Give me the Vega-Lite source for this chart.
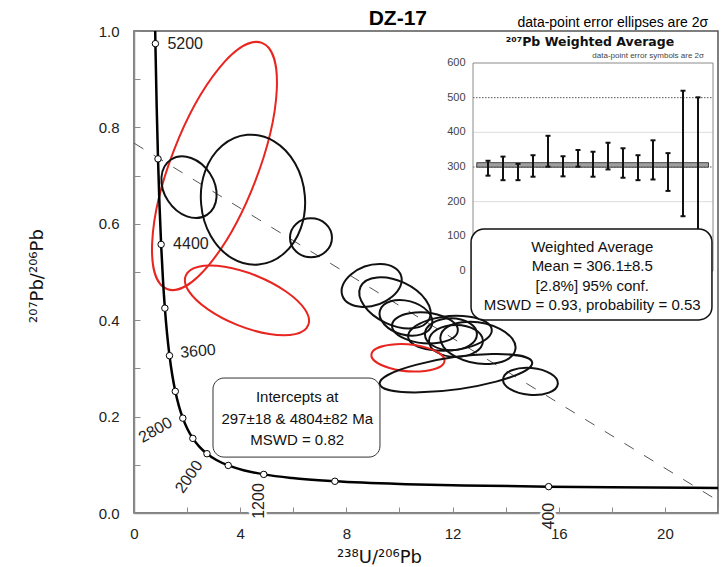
{
  "$schema": "https://vega.github.io/schema/vega-lite/v6.json",
  "width": 584,
  "height": 482,
  "autosize": {"type": "none"},
  "padding": {"left": 134, "top": 31, "right": 9, "bottom": 54},
  "background": "white",
  "config": {
    "font": "Liberation Sans",
    "view": {"stroke": "#555555", "strokeWidth": 1.5},
    "axis": {
      "domainColor": "#8c8c8c", "domainWidth": 1.5, "tickColor": "#8c8c8c", "tickWidth": 1,
      "labelColor": "#222222", "labelFontSize": 15, "titleFontWeight": "normal", "titleColor": "#111111",
      "titleFont": "DejaVu Sans", "titleFontSize": 18, "grid": false, "labelFlush": false, "labelOverlap": false
    }
  },
  "data": {"values": [{}]},
  "datasets": {
    "concordia": [
      {"t": 5400, "x": 0.7628, "y": 1.1232},
      {"t": 5200, "x": 0.8062, "y": 0.9738},
      {"t": 5000, "x": 0.8533, "y": 0.8453},
      {"t": 4800, "x": 0.9045, "y": 0.7347},
      {"t": 4600, "x": 0.9604, "y": 0.6393},
      {"t": 4400, "x": 1.0216, "y": 0.5572},
      {"t": 4200, "x": 1.0888, "y": 0.4863},
      {"t": 4000, "x": 1.1630, "y": 0.4250},
      {"t": 3800, "x": 1.2453, "y": 0.3721},
      {"t": 3600, "x": 1.3370, "y": 0.3264},
      {"t": 3400, "x": 1.4398, "y": 0.2868},
      {"t": 3200, "x": 1.5557, "y": 0.2524},
      {"t": 3000, "x": 1.6875, "y": 0.2227},
      {"t": 2800, "x": 1.8384, "y": 0.1968},
      {"t": 2600, "x": 2.0130, "y": 0.1744},
      {"t": 2400, "x": 2.2169, "y": 0.1548},
      {"t": 2200, "x": 2.4585, "y": 0.1378},
      {"t": 2000, "x": 2.7490, "y": 0.1230},
      {"t": 1800, "x": 3.1042, "y": 0.1100},
      {"t": 1600, "x": 3.5495, "y": 0.0987},
      {"t": 1400, "x": 4.1224, "y": 0.0888},
      {"t": 1200, "x": 4.8876, "y": 0.0801},
      {"t": 1000, "x": 5.9591, "y": 0.0725},
      {"t": 800, "x": 7.568, "y": 0.0658},
      {"t": 600, "x": 10.252, "y": 0.0599},
      {"t": 500, "x": 12.399, "y": 0.0572},
      {"t": 400, "x": 15.620, "y": 0.0547},
      {"t": 350, "x": 17.923, "y": 0.0535},
      {"t": 300, "x": 20.992, "y": 0.0523},
      {"t": 280, "x": 22.527, "y": 0.0519}
    ],
    "ell": [
      {"id": "E1", "grp": "red", "x": 3.032, "y": 0.720},
      {"id": "E2", "grp": "black", "x": 2.072, "y": 0.676},
      {"id": "E3", "grp": "black", "x": 4.482, "y": 0.650},
      {"id": "E4", "grp": "black", "x": 6.667, "y": 0.571},
      {"id": "E5", "grp": "red", "x": 4.256, "y": 0.441},
      {"id": "E6", "grp": "black", "x": 8.953, "y": 0.472},
      {"id": "E7", "grp": "black", "x": 9.831, "y": 0.436},
      {"id": "E8", "grp": "black", "x": 10.245, "y": 0.405},
      {"id": "E9", "grp": "black", "x": 10.960, "y": 0.384},
      {"id": "E10", "grp": "black", "x": 11.902, "y": 0.373},
      {"id": "E11", "grp": "black", "x": 11.940, "y": 0.371},
      {"id": "E12", "grp": "black", "x": 12.128, "y": 0.357},
      {"id": "E13", "grp": "black", "x": 12.957, "y": 0.353},
      {"id": "E14", "grp": "red", "x": 10.320, "y": 0.322},
      {"id": "E15", "grp": "black", "x": 12.128, "y": 0.290},
      {"id": "E16", "grp": "black", "x": 14.934, "y": 0.273}
    ],
    "wa": [
      {"i": 1, "lo": 275, "hi": 318},
      {"i": 2, "lo": 262, "hi": 330},
      {"i": 3, "lo": 262, "hi": 309},
      {"i": 4, "lo": 272, "hi": 334},
      {"i": 5, "lo": 301, "hi": 390},
      {"i": 6, "lo": 273, "hi": 331},
      {"i": 7, "lo": 301, "hi": 349},
      {"i": 8, "lo": 272, "hi": 344},
      {"i": 9, "lo": 293, "hi": 370},
      {"i": 10, "lo": 269, "hi": 354},
      {"i": 11, "lo": 262, "hi": 334},
      {"i": 12, "lo": 264, "hi": 377},
      {"i": 13, "lo": 231, "hi": 340},
      {"i": 14, "lo": 158, "hi": 520},
      {"i": 15, "lo": 110, "hi": 501}
    ]
  },
  "layer": [
    {
      "layer": [
        {
          "data": {"values": [{"x": 0, "y": 0.7674}, {"x": 22, "y": 0.0256}]},
          "mark": {"type": "line", "stroke": "#555555", "strokeWidth": 1, "strokeDash": [11, 12]},
          "encoding": {
            "x": {"field": "x", "type": "quantitative", "scale": {"domain": [0, 22], "nice": false, "zero": false},
              "axis": {"title": "²³⁸U/²⁰⁶Pb", "values": [0, 2, 4, 6, 8, 10, 12, 14, 16, 18, 20, 22],
                "labelExpr": "datum.value % 4 === 0 ? datum.label : ''", "tickSize": -6, "labelPadding": 19,
                "titleX": 245, "titleY": 49.7, "titleBaseline": "alphabetic", "titleAlign": "center"}},
            "y": {"field": "y", "type": "quantitative", "scale": {"domain": [0, 1], "nice": false, "zero": false},
              "axis": {"title": "²⁰⁷Pb/²⁰⁶Pb", "values": [0, 0.1, 0.2, 0.3, 0.4, 0.5, 0.6, 0.7, 0.8, 0.9, 1.0],
                "labelExpr": "round(datum.value * 10) % 2 === 0 ? format(datum.value, '.1f') : ''", "tickSize": -6, "labelPadding": 21,
                "titleX": -92, "titleY": 244.6, "titleBaseline": "alphabetic", "titleAlign": "center", "titleAngle": 270}}
          }
        },
        {
          "data": {"name": "ell"},
          "mark": {"type": "point", "filled": false, "size": 4, "strokeWidth": 2, "opacity": 1},
          "encoding": {
            "x": {"field": "x", "type": "quantitative"},
            "y": {"field": "y", "type": "quantitative"},
            "shape": {"field": "id", "type": "nominal", "legend": null, "scale": {
              "domain": ["E1", "E2", "E3", "E4", "E5", "E6", "E7", "E8", "E9", "E10", "E11", "E12", "E13", "E14", "E15", "E16"],
              "range": [
                "M -47.48 123.06 A 131.9 43.5 -68.9 1 0 47.48 -123.06 A 131.9 43.5 -68.9 1 0 -47.48 123.06 Z",
                "M -17.97 -27.68 A 33 25 57 1 0 17.97 27.68 A 33 25 57 1 0 -17.97 -27.68 Z",
                "M -51.8 4.53 A 52 64.5 -5 1 0 51.8 -4.53 A 52 64.5 -5 1 0 -51.8 4.53 Z",
                "M -21 0 A 21 19.5 0 1 0 21 0 A 21 19.5 0 1 0 -21 0 Z",
                "M -61.19 -24.72 A 66 26 22 1 0 61.19 24.72 A 66 26 22 1 0 -61.19 -24.72 Z",
                "M -29.31 10.09 A 31 19.8 -19 1 0 29.31 -10.09 A 31 19.8 -19 1 0 -29.31 10.09 Z",
                "M -34.44 -16.06 A 38 22 25 1 0 34.44 16.06 A 38 22 25 1 0 -34.44 -16.06 Z",
                "M -26.08 -6.99 A 27 17 15 1 0 26.08 6.99 A 27 17 15 1 0 -26.08 -6.99 Z",
                "M -32.87 -2.88 A 33 15 5 1 0 32.87 2.88 A 33 15 5 1 0 -32.87 -2.88 Z",
                "M -41.84 3.66 A 42 17 -5 1 0 41.84 -3.66 A 42 17 -5 1 0 -41.84 3.66 Z",
                "M -26 0 A 26 16 0 1 0 26 0 A 26 16 0 1 0 -26 0 Z",
                "M -27 0 A 27 16 0 1 0 27 0 A 27 16 0 1 0 -27 0 Z",
                "M -37.42 -6.6 A 38 20 10 1 0 37.42 6.6 A 38 20 10 1 0 -37.42 -6.6 Z",
                "M -36.56 -3.2 A 36.7 13.3 5 1 0 36.56 3.2 A 36.7 13.3 5 1 0 -36.56 -3.2 Z",
                "M -76.25 10.72 A 77 16 -8 1 0 76.25 -10.72 A 77 16 -8 1 0 -76.25 10.72 Z",
                "M -27.4 -2.4 A 27.5 13.5 5 1 0 27.4 2.4 A 27.5 13.5 5 1 0 -27.4 -2.4 Z"
              ]}},
            "color": {"field": "grp", "type": "nominal", "legend": null, "scale": {"domain": ["black", "red"], "range": ["#111111", "#e8251f"]}}
          }
        },
        {
          "data": {"name": "concordia"},
          "mark": {"type": "line", "color": "#000000", "strokeWidth": 2.5, "interpolate": "monotone", "clip": true},
          "encoding": {"x": {"field": "x", "type": "quantitative"}, "y": {"field": "y", "type": "quantitative"}}
        },
        {
          "data": {"name": "concordia"},
          "transform": [{"filter": "datum.t >= 400 && datum.t <= 5200 && datum.t % 400 === 0"}],
          "mark": {"type": "point", "shape": "circle", "filled": true, "fill": "white", "stroke": "#000000", "strokeWidth": 1, "size": 42, "opacity": 1},
          "encoding": {"x": {"field": "x", "type": "quantitative"}, "y": {"field": "y", "type": "quantitative"}}
        },
        {
          "data": {"name": "concordia"},
          "transform": [{"filter": "datum.t === 5200 || datum.t === 4400"}],
          "mark": {"type": "text", "align": "left", "baseline": "middle", "dx": 12, "dy": 0, "fontSize": 16, "color": "#222222"},
          "encoding": {"x": {"field": "x", "type": "quantitative"}, "y": {"field": "y", "type": "quantitative"}, "text": {"field": "t", "type": "quantitative", "format": "d"}}
        },
        {
          "data": {"name": "concordia"},
          "transform": [{"filter": "datum.t === 3600"}],
          "mark": {"type": "text", "align": "left", "baseline": "middle", "dx": 11, "dy": -2, "angle": -5, "fontSize": 16, "color": "#222222"},
          "encoding": {"x": {"field": "x", "type": "quantitative"}, "y": {"field": "y", "type": "quantitative"}, "text": {"field": "t", "type": "quantitative", "format": "d"}}
        },
        {
          "data": {"name": "concordia"},
          "transform": [{"filter": "datum.t === 2800"}],
          "mark": {"type": "text", "align": "center", "baseline": "middle", "dx": -29.6, "dy": -3.3, "angle": -30, "fontSize": 16, "color": "#222222"},
          "encoding": {"x": {"field": "x", "type": "quantitative"}, "y": {"field": "y", "type": "quantitative"}, "text": {"field": "t", "type": "quantitative", "format": "d"}}
        },
        {
          "data": {"name": "concordia"},
          "transform": [{"filter": "datum.t === 2000"}],
          "mark": {"type": "text", "align": "center", "baseline": "middle", "dx": -29.2, "dy": -1.5, "angle": -55, "fontSize": 16, "color": "#222222"},
          "encoding": {"x": {"field": "x", "type": "quantitative"}, "y": {"field": "y", "type": "quantitative"}, "text": {"field": "t", "type": "quantitative", "format": "d"}}
        },
        {
          "data": {"name": "concordia"},
          "transform": [{"filter": "datum.t === 1200"}],
          "mark": {"type": "text", "align": "center", "baseline": "middle", "dx": -26.6, "dy": -4.3, "angle": -90, "fontSize": 16, "fill": "white", "stroke": "white", "strokeWidth": 5},
          "encoding": {"x": {"field": "x", "type": "quantitative"}, "y": {"field": "y", "type": "quantitative"}, "text": {"field": "t", "type": "quantitative", "format": "d"}}
        },
        {
          "data": {"name": "concordia"},
          "transform": [{"filter": "datum.t === 1200"}],
          "mark": {"type": "text", "align": "center", "baseline": "middle", "dx": -26.6, "dy": -4.3, "angle": -90, "fontSize": 16, "color": "#222222"},
          "encoding": {"x": {"field": "x", "type": "quantitative"}, "y": {"field": "y", "type": "quantitative"}, "text": {"field": "t", "type": "quantitative", "format": "d"}}
        },
        {
          "data": {"name": "concordia"},
          "transform": [{"filter": "datum.t === 400"}],
          "mark": {"type": "text", "align": "center", "baseline": "middle", "dx": -29.5, "dy": 0, "angle": -90, "fontSize": 16, "fill": "white", "stroke": "white", "strokeWidth": 5},
          "encoding": {"x": {"field": "x", "type": "quantitative"}, "y": {"field": "y", "type": "quantitative"}, "text": {"field": "t", "type": "quantitative", "format": "d"}}
        },
        {
          "data": {"name": "concordia"},
          "transform": [{"filter": "datum.t === 400"}],
          "mark": {"type": "text", "align": "center", "baseline": "middle", "dx": -29.5, "dy": 0, "angle": -90, "fontSize": 16, "color": "#222222"},
          "encoding": {"x": {"field": "x", "type": "quantitative"}, "y": {"field": "y", "type": "quantitative"}, "text": {"field": "t", "type": "quantitative", "format": "d"}}
        },
        {
          "mark": {"type": "rect", "fill": "white", "stroke": "#333333", "strokeWidth": 1, "cornerRadius": 11},
          "encoding": {"x": {"datum": 2.976, "type": "quantitative"}, "x2": {"datum": 9.266}, "y": {"datum": 0.280, "type": "quantitative"}, "y2": {"datum": 0.116}}
        },
        {
          "mark": {"type": "text", "text": ["Intercepts  at", "297±18  & 4804±82 Ma", "MSWD = 0.82"], "lineHeight": 21.7, "fontSize": 15, "align": "center", "baseline": "alphabetic", "color": "#111111"},
          "encoding": {"x": {"datum": 6.147, "type": "quantitative"}, "y": {"datum": 0.2301, "type": "quantitative"}}
        },
        {
          "mark": {"type": "text", "text": "DZ-17", "fontSize": 21, "fontWeight": "bold", "align": "center", "baseline": "alphabetic", "color": "#000000"},
          "encoding": {"x": {"datum": 9.94, "type": "quantitative"}, "y": {"datum": 1.0118, "type": "quantitative"}}
        },
        {
          "mark": {"type": "text", "text": "data-point error ellipses are 2σ", "fontSize": 14, "align": "right", "baseline": "alphabetic", "color": "#000000"},
          "encoding": {"x": {"datum": 21.63, "type": "quantitative"}, "y": {"datum": 1.0089, "type": "quantitative"}}
        }
      ]
    },
    {
      "layer": [
        {
          "data": {"values": [{"v": 100}, {"v": 200}, {"v": 400}]},
          "mark": {"type": "rule", "color": "#dddddd", "strokeWidth": 1},
          "encoding": {
            "x": {"datum": 0, "type": "quantitative", "scale": {"domain": [0, 16], "range": [339, 579], "nice": false, "zero": false}, "axis": null},
            "x2": {"datum": 16},
            "y": {"field": "v", "type": "quantitative", "scale": {"domain": [0, 600], "range": [240, 32], "nice": false, "zero": false}, "axis": null}
          }
        },
        {
          "data": {"values": [{"v": 300}, {"v": 500}]},
          "mark": {"type": "rule", "color": "#555555", "strokeWidth": 1, "strokeDash": [1.5, 1.5]},
          "encoding": {
            "x": {"datum": 0, "type": "quantitative", "axis": null},
            "x2": {"datum": 16},
            "y": {"field": "v", "type": "quantitative", "axis": null}
          }
        },
        {
          "mark": {"type": "rect", "fill": "white", "fillOpacity": 0, "stroke": "#8a8a8a", "strokeWidth": 1},
          "encoding": {
            "x": {"datum": 0, "type": "quantitative", "axis": null},
            "x2": {"datum": 16},
            "y": {"datum": 0, "type": "quantitative", "axis": null},
            "y2": {"datum": 600}
          }
        },
        {
          "data": {"values": [{"v": 0}, {"v": 100}, {"v": 200}, {"v": 300}, {"v": 400}, {"v": 500}, {"v": 600}]},
          "mark": {"type": "text", "align": "right", "baseline": "middle", "fontSize": 11, "color": "#444444"},
          "encoding": {
            "x": {"datum": -0.5, "type": "quantitative", "axis": null},
            "y": {"field": "v", "type": "quantitative", "axis": null},
            "text": {"field": "v", "type": "quantitative", "format": "d"}
          }
        },
        {
          "data": {"values": [{"lo": 299.5, "hi": 312.5}]},
          "mark": {"type": "rect", "fill": "#a0a0a0", "stroke": "#222222", "strokeWidth": 0.8},
          "encoding": {
            "x": {"datum": 0.25, "type": "quantitative", "axis": null},
            "x2": {"datum": 15.7},
            "y": {"field": "lo", "type": "quantitative", "axis": null},
            "y2": {"field": "hi"}
          }
        },
        {
          "data": {"name": "wa"},
          "mark": {"type": "rule", "color": "#111111", "strokeWidth": 2},
          "encoding": {
            "x": {"field": "i", "type": "quantitative", "axis": null},
            "y": {"field": "lo", "type": "quantitative", "axis": null},
            "y2": {"field": "hi"}
          }
        },
        {
          "data": {"name": "wa"},
          "mark": {"type": "tick", "orient": "horizontal", "size": 5, "thickness": 2, "color": "#111111", "opacity": 1},
          "encoding": {
            "x": {"field": "i", "type": "quantitative", "axis": null},
            "y": {"field": "hi", "type": "quantitative", "axis": null}
          }
        },
        {
          "data": {"name": "wa"},
          "mark": {"type": "tick", "orient": "horizontal", "size": 5, "thickness": 2, "color": "#111111", "opacity": 1},
          "encoding": {
            "x": {"field": "i", "type": "quantitative", "axis": null},
            "y": {"field": "lo", "type": "quantitative", "axis": null}
          }
        },
        {
          "mark": {"type": "text", "text": "²⁰⁷Pb Weighted Average", "font": "DejaVu Sans", "fontSize": 12.5, "fontWeight": "bold", "align": "center", "baseline": "alphabetic", "color": "#111111"},
          "encoding": {"x": {"datum": 7.8, "type": "quantitative", "axis": null}, "y": {"datum": 650, "type": "quantitative", "axis": null}}
        },
        {
          "mark": {"type": "text", "text": "data-point error symbols are 2σ", "fontSize": 8, "align": "right", "baseline": "alphabetic", "color": "#444444"},
          "encoding": {"x": {"datum": 15.4, "type": "quantitative", "axis": null}, "y": {"datum": 613, "type": "quantitative", "axis": null}}
        },
        {
          "mark": {"type": "rect", "fill": "white", "stroke": "#111111", "strokeWidth": 1.5, "cornerRadius": 13},
          "encoding": {
            "x": {"datum": -0.13, "type": "quantitative", "axis": null},
            "x2": {"datum": 15.93},
            "y": {"datum": 121, "type": "quantitative", "axis": null},
            "y2": {"datum": -141}
          }
        },
        {
          "mark": {"type": "text", "text": ["Weighted Average", "Mean = 306.1±8.5", "[2.8%]  95% conf.", "MSWD = 0.93, probability = 0.53"], "lineHeight": 19.3, "fontSize": 15, "align": "center", "baseline": "alphabetic", "color": "#111111"},
          "encoding": {"x": {"datum": 7.95, "type": "quantitative", "axis": null}, "y": {"datum": 54.8, "type": "quantitative", "axis": null}}
        }
      ]
    }
  ],
  "resolve": {"scale": {"x": "independent", "y": "independent"}}
}
